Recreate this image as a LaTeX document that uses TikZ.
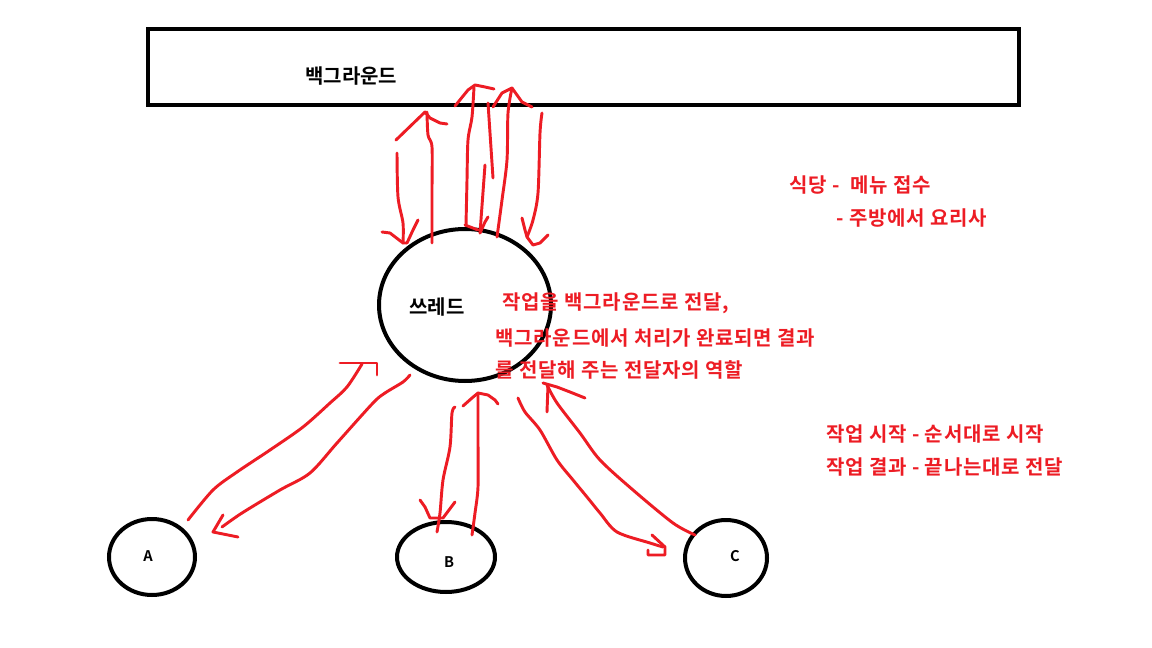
\documentclass[tikz,border=0pt]{standalone}
\usepackage{fontspec}
\newfontfamily\kr{Noto Sans CJK KR Bold}
\newfontfamily\krw[LetterSpace=4]{Noto Sans CJK KR Bold}
\definecolor{pred}{RGB}{237,28,36}
\begin{document}
\begin{tikzpicture}[x=0.75pt,y=-0.75pt,
  blk/.style={draw=black,line width=3pt},
  stroke/.style={draw=pred,line width=2.2pt,line cap=round,line join=round},
  rtext/.style={anchor=west,inner sep=0pt,text=pred,font=\krw\fontsize{15}{17}\selectfont},
  btext/.style={anchor=west,inner sep=0pt,text=black,font=\kr\fontsize{15}{17}\selectfont},
  ltext/.style={inner sep=0pt,text=black,font=\kr\fontsize{11}{13}\selectfont}]
\useasboundingbox[fill=white] (0,0) rectangle (1152,648);
% shapes
\draw[blk] (148,29) rectangle (1019,105);
\node[btext] (bgt) at (305,76) {백그라운드};
\draw[blk] (465,305) ellipse [x radius=86,y radius=76];
\node[btext] (tht) at (409,307) {쓰레드};
\draw[blk] (152,557) ellipse [x radius=43,y radius=38];
\draw[blk] (446,557) ellipse [x radius=49,y radius=35];
\draw[blk] (726,558) ellipse [x radius=41,y radius=38];
\node[ltext] (A) at (148,556) {A};
\node[ltext] (B) at (449,562) {B};
\node[ltext] (C) at (735,556) {C};
% red texts
\node[rtext] (t1) at (502,303) {작업을 백그라운드로 전달,};
\node[rtext] (t2) at (495,338) {백그라운드에서 처리가 완료되면 결과};
\node[rtext] (t3) at (495,370) {를 전달해 주는 전달자의 역할};
\node[rtext] (t4) at (789,185) {식당 -\ \ 메뉴 접수};
\node[rtext] (t5) at (836,218) {- 주방에서 요리사};
\node[rtext] (t6) at (826,434) {작업 시작 - 순서대로 시작};
\node[rtext] (t7) at (826,467) {작업 결과 - 끝나는대로 전달};
% top strokes
\draw[stroke] plot[smooth] coordinates {(432,243) (432,190) (432,147) (428,135) (427,112)};
\draw[stroke] (396,140) -- (425,112) -- (430,118) -- (440,123) -- (447,124);
\draw[stroke] plot[smooth] coordinates {(397,153) (398,197) (403,223) (403,243)};
\draw[stroke] (382,232) -- (390,233) -- (403,243) -- (407,243);
\draw[stroke] (418,220) -- (413,230) -- (407,243);
\draw[stroke] plot[smooth] coordinates {(466,225) (467,180) (468,140) (472,117) (474,87)};
\draw[stroke] (465,225) -- (478,230);
\draw[stroke] (455,106) -- (468,90) -- (475,85) -- (485,87) -- (494,89);
\draw[stroke] (485,165) -- (480,233);
\draw[stroke] (488,217) -- (485,222) -- (480,233);
\draw[stroke] (488,103) -- (493,178);
\draw[stroke] plot[smooth] coordinates {(497,237) (502,200) (507,160) (508,113) (512,88)};
\draw[stroke] (493,107) -- (502,93) -- (512,88) -- (522,102) -- (532,107);
\draw[stroke] plot[smooth] coordinates {(542,113) (540,133) (538,193) (533,220) (527,237)};
\draw[stroke] (522,218) -- (525,230) -- (527,237) -- (533,245) -- (540,243) -- (548,235);
% A strokes
\draw[stroke] plot[smooth] coordinates {(188,520) (213,490) (237,472) (270,450) (303,427) (330,403) (347,387) (362,364)};
\draw[stroke] (340,363) -- (377,363) -- (377,375);
\draw[stroke] plot[smooth] coordinates {(410,375) (403,382) (385,393) (373,403) (337,443) (310,473) (280,490) (242,513) (222,527)};
\draw[stroke] (223,515) -- (213,532) -- (238,537);
% B strokes
\draw[stroke] plot[smooth] coordinates {(455,407) (452,413) (450,447) (443,480) (440,513) (437,532)};
\draw[stroke] (420,500) -- (425,507) -- (430,518) -- (443,518) -- (455,502);
\draw[stroke] plot[smooth] coordinates {(472,535) (475,513) (478,487) (478,440) (478,393)};
\draw[stroke] (463,406) -- (472,398) -- (478,393) -- (488,395) -- (495,400) -- (498,404);
% C strokes
\draw[stroke] plot[smooth] coordinates {(518,398) (525,412) (540,430) (557,460) (573,480) (587,497) (600,513) (617,532) (650,543) (663,547)};
\draw[stroke] (652,535) -- (665,547) -- (665,555) -- (648,555) -- (648,550);
\draw[stroke] plot[smooth] coordinates {(695,535) (673,523) (633,490) (600,460) (580,433) (557,403) (547,385)};
\draw[stroke] (547,412) -- (548,385);
\draw[stroke] (543,383) -- (557,387) -- (570,392) -- (585,398);
\end{tikzpicture}
\end{document}
